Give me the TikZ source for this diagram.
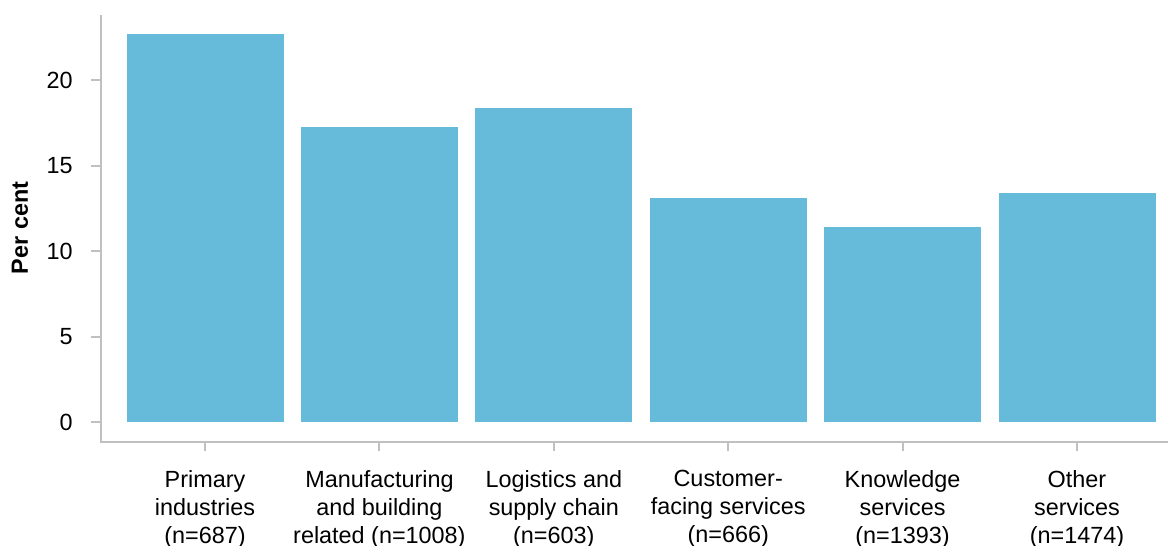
\documentclass[tikz,border=0pt]{standalone}
\usepackage{fontspec}
\setmainfont{Liberation Sans}
\definecolor{barblue}{RGB}{102,187,218}
\definecolor{axisgrey}{RGB}{192,192,192}

\begin{document}
\begin{tikzpicture}
[
    x=0.5pt, y=0.5pt,
    bar/.style={fill=barblue},
    axis/.style={draw=axisgrey, line width=1pt},
    ticklbl/.style={anchor=east, inner sep=0pt, font=\fontsize{11.7}{14}\selectfont},
    catlbl/.style={anchor=north, inner sep=0pt, align=center, font=\fontsize{11.7}{14}\selectfont},
]
\useasboundingbox (0,0) rectangle (1168,546);
% axes
\coordinate (origin) at (100.5,104);
\coordinate (ytop) at (100.5,531);
\coordinate (xend) at (1168,104);
\draw[axis] (ytop) -- (origin) -- (xend);
\node [rotate=90, font=\fontsize{11.7}{14}\selectfont\bfseries] (ylabel) at (20,318) {Per cent};
% y ticks
\foreach \v in {0,5,10,15,20}
{
    \draw[axis] (91,{123.5+17.1*\v}) -- (100.5,{123.5+17.1*\v});
    \node [ticklbl] (ytick\v) at (73,{123.5+17.1*\v}) {\v};
}
% bars and categories
\foreach \i/\val/\txt in {
    1/22.7/{Primary\\industries\\(n=687)},
    2/17.3/{Manufacturing\\and building\\related (n=1008)},
    3/18.4/{Logistics and\\supply chain\\(n=603)},
    4/13.1/{Customer-\\facing services\\(n=666)},
    5/11.45/{Knowledge\\services\\(n=1393)},
    6/13.4/{Other\\services\\(n=1474)}}
{
    \path[bar] ({205+174.4*(\i-1)-78.5},123.5) rectangle ({205+174.4*(\i-1)+78.5},{123.5+17.1*\val});
    \draw[axis] ({205+174.4*(\i-1)},104) -- ({205+174.4*(\i-1)},95);
    \node [catlbl] (cat\i) at ({205+174.4*(\i-1)},76) {\txt};
}
\end{tikzpicture}
\end{document}
